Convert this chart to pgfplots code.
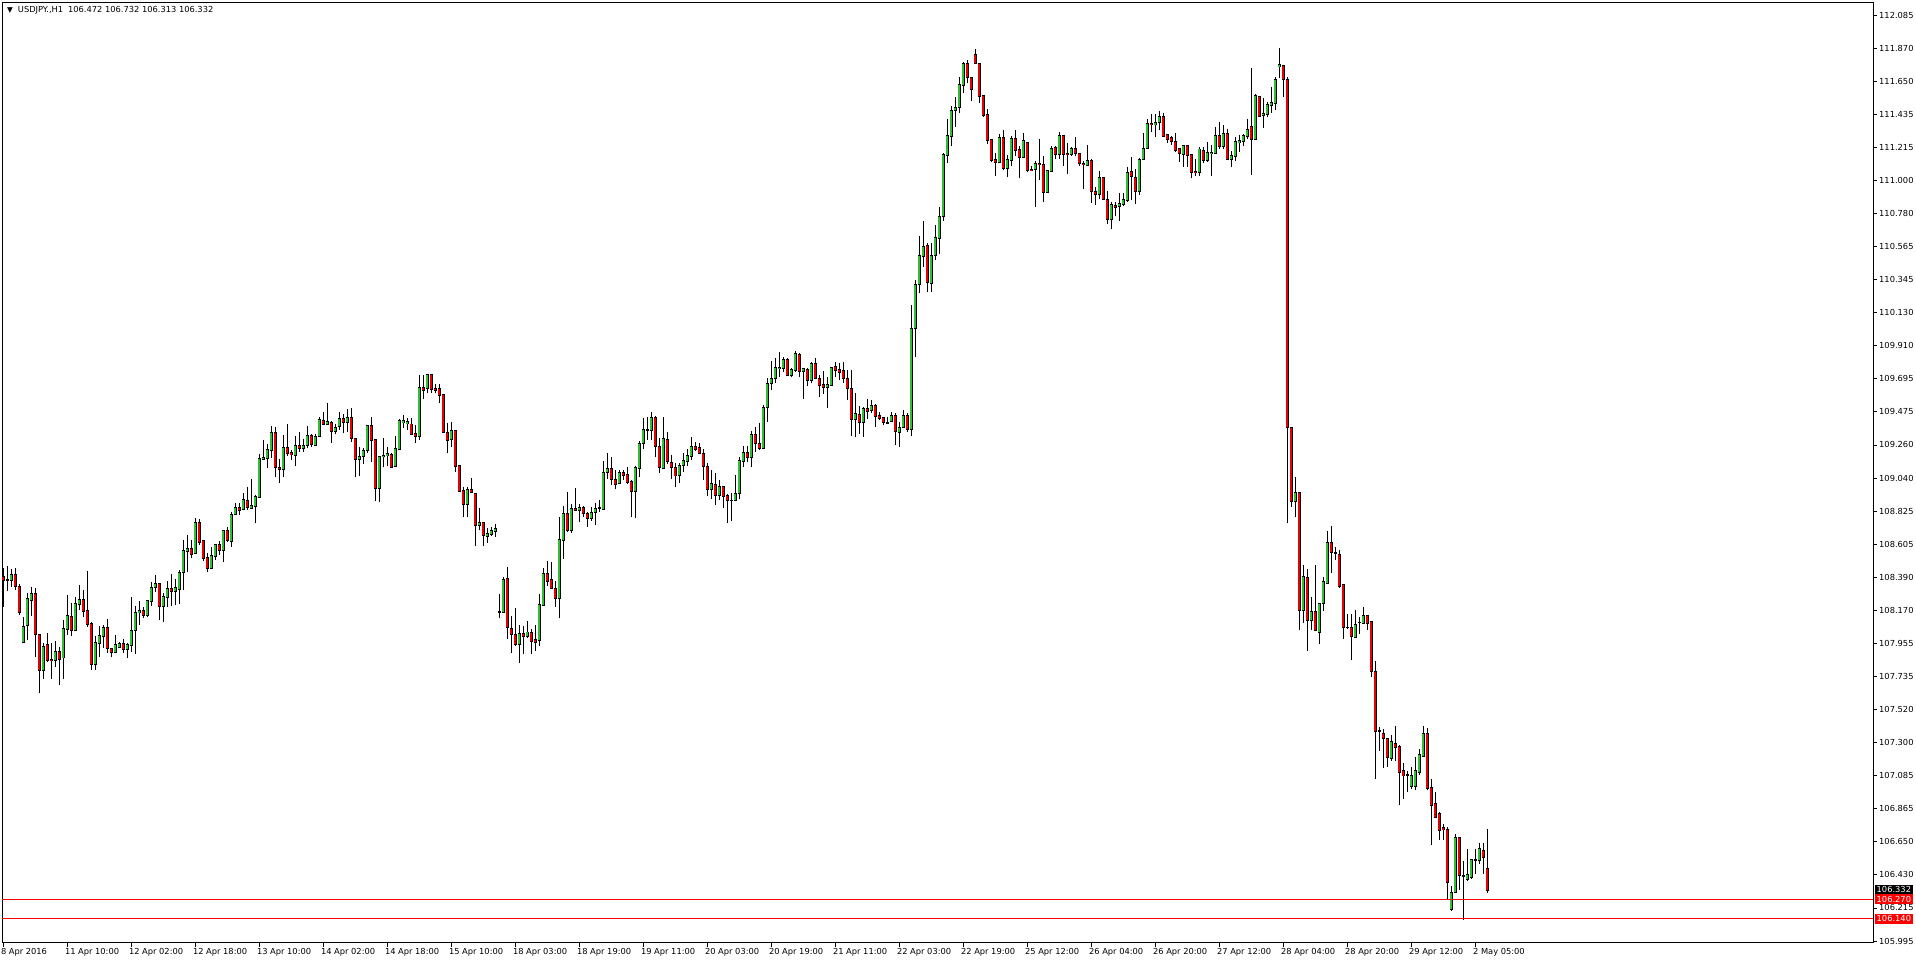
\documentclass[border=0pt]{standalone}
\usepackage{pgfplots}
\pgfplotsset{compat=1.18}
\usepackage{pgfplotstable}
\usepackage{fontspec}
\setmainfont{DejaVu Sans}
\newcommand\mtfont{\fontsize{8.3}{10}\selectfont}
\definecolor{bull}{RGB}{50,190,50}
\definecolor{bear}{RGB}{230,0,0}
\pgfplotstableread{
i o h l c
0 108.391 108.446 108.194 108.369
1 108.369 108.461 108.299 108.368
2 108.365 108.440 108.326 108.407
3 108.407 108.446 108.304 108.326
4 108.330 108.343 108.139 108.161
5 107.964 108.128 107.962 108.063
6 108.069 108.282 107.975 108.249
7 108.238 108.321 108.133 108.282
8 108.282 108.315 107.865 108.012
9 108.012 108.014 107.624 107.773
10 107.778 107.953 107.718 107.935
11 107.942 108.019 107.828 107.843
12 107.848 107.953 107.718 107.839
13 107.843 107.968 107.799 107.900
14 107.900 107.931 107.679 107.850
15 107.859 108.106 107.718 108.052
16 108.047 108.271 108.008 108.133
17 108.128 108.220 108.003 108.041
18 108.041 108.260 108.040 108.212
19 108.209 108.337 108.172 108.238
20 108.238 108.304 108.128 108.161
21 108.166 108.431 108.063 108.080
22 108.084 108.095 107.778 107.815
23 107.815 108.001 107.778 107.959
24 107.953 108.067 107.865 108.001
25 107.997 108.071 107.920 108.056
26 108.056 108.113 107.892 107.920
27 107.920 107.924 107.865 107.892
28 107.892 108.008 107.887 107.942
29 107.924 107.964 107.920 107.953
30 107.953 107.979 107.892 107.913
31 107.913 107.957 107.859 107.942
32 107.938 108.260 107.898 108.036
33 108.036 108.198 107.881 108.157
34 108.157 108.233 108.073 108.166
35 108.166 108.194 108.117 108.135
36 108.135 108.238 108.128 108.231
37 108.229 108.358 108.198 108.321
38 108.321 108.402 108.293 108.347
39 108.347 108.349 108.106 108.194
40 108.194 108.282 108.095 108.260
41 108.255 108.365 108.194 108.310
42 108.310 108.409 108.198 108.293
43 108.299 108.374 108.205 108.317
44 108.308 108.435 108.212 108.420
45 108.420 108.632 108.304 108.560
46 108.556 108.665 108.424 108.578
47 108.573 108.632 108.512 108.540
48 108.545 108.775 108.543 108.749
49 108.749 108.768 108.600 108.621
50 108.630 108.632 108.494 108.516
51 108.518 108.549 108.424 108.444
52 108.444 108.589 108.442 108.527
53 108.523 108.606 108.501 108.604
54 108.604 108.626 108.534 108.567
55 108.567 108.694 108.490 108.692
56 108.692 108.720 108.621 108.628
57 108.628 108.814 108.589 108.803
58 108.803 108.874 108.797 108.847
59 108.847 108.874 108.797 108.830
60 108.834 108.939 108.830 108.895
61 108.895 108.983 108.830 108.847
62 108.841 109.031 108.836 108.858
63 108.852 108.928 108.742 108.917
64 108.913 109.198 108.911 109.169
65 109.165 109.290 109.158 109.174
66 109.169 109.264 109.104 109.224
67 109.220 109.382 109.169 109.340
68 109.340 109.378 109.044 109.108
69 109.110 109.163 109.009 109.097
70 109.097 109.323 109.049 109.242
71 109.242 109.395 109.185 109.202
72 109.207 109.224 109.158 109.193
73 109.187 109.316 109.119 109.255
74 109.255 109.345 109.213 109.235
75 109.233 109.297 109.213 109.255
76 109.255 109.382 109.235 109.321
77 109.321 109.329 109.246 109.261
78 109.259 109.329 109.250 109.316
79 109.314 109.443 109.312 109.421
80 109.421 109.476 109.389 109.393
81 109.393 109.531 109.391 109.408
82 109.408 109.415 109.272 109.351
83 109.351 109.393 109.329 109.373
84 109.378 109.476 109.356 109.432
85 109.428 109.461 109.338 109.406
86 109.404 109.492 109.345 109.439
87 109.439 109.498 109.279 109.299
88 109.301 109.302 109.044 109.163
89 109.163 109.246 109.053 109.178
90 109.180 109.235 109.132 109.220
91 109.220 109.384 109.207 109.382
92 109.382 109.439 109.147 109.288
93 109.290 109.291 108.891 108.976
94 108.976 109.185 108.884 109.180
95 109.180 109.301 109.110 109.189
96 109.187 109.242 109.119 109.198
97 109.198 109.202 109.104 109.115
98 109.119 109.316 109.118 109.235
99 109.231 109.426 109.229 109.415
100 109.406 109.454 109.367 109.415
101 109.399 109.432 109.356 109.410
102 109.395 109.432 109.323 109.329
103 109.329 109.389 109.272 109.318
104 109.318 109.717 109.290 109.636
105 109.636 109.717 109.557 109.619
106 109.630 109.720 109.597 109.717
107 109.717 109.720 109.597 109.623
108 109.630 109.658 109.597 109.619
109 109.630 109.658 109.535 109.584
110 109.586 109.588 109.338 109.340
111 109.340 109.404 109.202 109.288
112 109.294 109.406 109.242 109.351
113 109.353 109.355 109.082 109.115
114 109.119 109.121 108.950 108.952
115 108.955 108.983 108.786 108.869
116 108.867 108.983 108.786 108.961
117 108.961 109.038 108.944 108.944
118 108.935 108.939 108.595 108.727
119 108.727 108.841 108.698 108.749
120 108.749 108.751 108.593 108.661
121 108.656 108.709 108.615 108.674
122 108.670 108.720 108.659 108.694
123 108.687 108.738 108.654 108.705
124 108.161 108.278 108.118 108.163
125 108.161 108.387 108.159 108.376
126 108.376 108.453 107.980 108.058
127 108.052 108.133 107.892 108.012
128 108.012 108.188 107.936 107.947
129 107.947 108.074 107.826 108.019
130 108.019 108.067 107.881 107.997
131 108.002 108.100 107.986 108.026
132 108.026 108.045 107.881 107.964
133 107.975 108.074 107.905 107.964
134 107.971 108.278 107.936 108.205
135 108.201 108.446 108.199 108.414
136 108.414 108.495 108.330 108.359
137 108.370 108.490 108.308 108.315
138 108.315 108.363 108.194 108.249
139 108.249 108.786 108.118 108.637
140 108.633 108.856 108.506 108.804
141 108.804 108.946 108.688 108.699
142 108.699 108.870 108.681 108.841
143 108.841 108.973 108.826 108.830
144 108.830 108.870 108.753 108.848
145 108.848 108.856 108.786 108.808
146 108.808 108.819 108.720 108.775
147 108.775 108.848 108.760 108.815
148 108.813 108.874 108.731 108.841
149 108.841 108.896 108.819 108.843
150 108.837 109.152 108.835 109.078
151 109.078 109.203 109.032 109.104
152 109.104 109.176 108.992 109.032
153 109.032 109.093 108.968 108.999
154 109.005 109.093 109.001 109.078
155 109.078 109.093 109.027 109.060
156 109.060 109.111 109.001 109.012
157 109.016 109.027 108.786 108.951
158 108.951 109.119 108.780 109.111
159 109.108 109.284 109.049 109.268
160 109.268 109.433 109.229 109.356
161 109.356 109.439 109.290 109.358
162 109.356 109.472 109.290 109.439
163 109.439 109.448 109.181 109.247
164 109.247 109.306 109.071 109.108
165 109.104 109.439 109.102 109.295
166 109.290 109.341 109.133 109.148
167 109.143 109.192 109.032 109.108
168 109.111 109.137 108.979 109.056
169 109.056 109.137 109.010 109.124
170 109.122 109.203 109.082 109.152
171 109.148 109.229 109.119 109.185
172 109.185 109.308 109.159 109.247
173 109.251 109.279 109.220 109.233
174 109.236 109.268 109.198 109.203
175 109.203 109.229 109.027 109.115
176 109.115 109.137 108.924 108.966
177 108.966 109.093 108.902 109.001
178 108.999 109.071 108.863 108.924
179 108.924 109.027 108.896 108.981
180 108.981 108.983 108.845 108.922
181 108.922 108.935 108.747 108.892
182 108.894 108.940 108.760 108.894
183 108.892 109.060 108.890 108.940
184 108.940 109.176 108.900 109.152
185 109.148 109.251 109.115 109.209
186 109.209 109.251 109.148 109.176
187 109.176 109.350 109.115 109.328
188 109.324 109.378 109.214 109.269
189 109.269 109.400 109.221 109.236
190 109.236 109.521 109.229 109.506
191 109.506 109.696 109.411 109.663
192 109.663 109.810 109.620 109.696
193 109.696 109.828 109.668 109.769
194 109.760 109.867 109.703 109.769
195 109.762 109.834 109.734 109.817
196 109.817 109.828 109.712 109.718
197 109.718 109.762 109.707 109.751
198 109.747 109.878 109.740 109.856
199 109.850 109.865 109.703 109.740
200 109.742 109.762 109.558 109.756
201 109.756 109.762 109.646 109.681
202 109.681 109.806 109.663 109.791
203 109.795 109.828 109.690 109.696
204 109.696 109.718 109.571 109.652
205 109.652 109.745 109.593 109.637
206 109.637 109.707 109.499 109.652
207 109.648 109.773 109.646 109.769
208 109.769 109.806 109.707 109.751
209 109.751 109.795 109.685 109.734
210 109.745 109.806 109.668 109.696
211 109.696 109.751 109.554 109.631
212 109.631 109.751 109.317 109.427
213 109.427 109.602 109.313 109.462
214 109.455 109.514 109.330 109.407
215 109.407 109.506 109.313 109.495
216 109.495 109.558 109.427 109.477
217 109.484 109.554 109.466 109.514
218 109.514 109.527 109.378 109.444
219 109.449 109.477 109.422 109.435
220 109.440 109.444 109.389 109.405
221 109.405 109.444 109.400 109.404
222 109.411 109.477 109.407 109.449
223 109.449 109.466 109.258 109.345
224 109.345 109.411 109.247 109.374
225 109.374 109.488 109.367 109.451
226 109.451 109.466 109.345 109.361
227 109.361 110.179 109.317 110.025
228 110.025 110.343 109.834 110.314
229 110.314 110.632 110.255 110.503
230 110.496 110.731 110.431 110.562
231 110.569 110.584 110.266 110.328
232 110.321 110.584 110.266 110.503
233 110.503 110.702 110.474 110.624
234 110.617 110.821 110.512 110.759
235 110.759 111.176 110.733 111.165
236 111.161 111.402 111.110 111.292
237 111.290 111.487 111.226 111.457
238 111.461 111.544 111.347 111.478
239 111.478 111.680 111.439 111.625
240 111.625 111.774 111.571 111.763
241 111.763 111.790 111.636 111.676
242 111.676 111.678 111.520 111.597
243 111.827 111.860 111.761 111.768
244 111.768 111.772 111.509 111.549
245 111.553 111.560 111.417 111.428
246 111.432 111.467 111.235 111.259
247 111.264 111.266 111.117 111.128
248 111.132 111.180 111.023 111.117
249 111.117 111.303 111.110 111.281
250 111.281 111.329 111.066 111.077
251 111.077 111.165 111.018 111.136
252 111.132 111.286 111.093 111.275
253 111.275 111.329 111.158 111.198
254 111.198 111.224 111.012 111.150
255 111.150 111.307 111.143 111.257
256 111.248 111.253 111.055 111.062
257 111.071 111.093 111.058 111.062
258 111.071 111.128 110.825 111.110
259 111.110 111.270 111.001 111.101
260 111.099 111.158 110.858 110.919
261 110.919 111.066 110.913 111.062
262 111.055 111.224 111.053 111.209
263 111.215 111.224 111.136 111.169
264 111.169 111.316 111.141 111.294
265 111.290 111.292 111.095 111.169
266 111.176 111.242 111.038 111.167
267 111.169 111.220 111.158 111.209
268 111.209 111.281 111.158 111.176
269 111.176 111.180 111.095 111.110
270 111.110 111.128 110.939 111.101
271 111.099 111.231 111.093 111.126
272 111.126 111.136 110.847 110.924
273 110.924 110.957 110.836 110.909
274 110.906 111.062 110.873 111.012
275 111.014 111.018 110.872 110.873
276 110.873 110.928 110.711 110.742
277 110.742 110.852 110.676 110.836
278 110.832 110.852 110.764 110.823
279 110.825 110.913 110.733 110.843
280 110.841 110.913 110.830 110.873
281 110.869 111.084 110.858 111.051
282 111.058 111.154 110.869 111.023
283 111.012 111.073 110.841 110.924
284 110.924 111.143 110.902 111.136
285 111.136 111.312 111.132 111.209
286 111.209 111.400 111.207 111.373
287 111.373 111.435 111.318 111.364
288 111.364 111.435 111.281 111.380
289 111.378 111.454 111.329 111.421
290 111.421 111.443 111.288 111.290
291 111.297 111.299 111.242 111.268
292 111.275 111.286 111.231 111.253
293 111.253 111.312 111.187 111.198
294 111.204 111.209 111.121 111.176
295 111.172 111.226 111.088 111.224
296 111.224 111.226 111.088 111.161
297 111.165 111.172 111.012 111.049
298 111.055 111.136 111.023 111.049
299 111.049 111.215 111.023 111.204
300 111.193 111.220 111.110 111.132
301 111.132 111.248 111.121 111.182
302 111.176 111.231 111.029 111.182
303 111.176 111.347 111.172 111.294
304 111.294 111.382 111.202 111.220
305 111.220 111.362 111.202 111.307
306 111.307 111.334 111.134 111.136
307 111.136 111.193 111.084 111.158
308 111.158 111.281 111.128 111.253
309 111.250 111.297 111.187 111.259
310 111.253 111.303 111.224 111.290
311 111.286 111.400 111.268 111.334
312 111.351 111.735 111.033 111.268
313 111.268 111.566 111.264 111.553
314 111.549 111.551 111.417 111.421
315 111.426 111.538 111.345 111.439
316 111.435 111.516 111.411 111.494
317 111.494 111.610 111.439 111.509
318 111.505 111.680 111.457 111.658
319 111.748 111.866 111.669 111.757
320 111.750 111.752 111.549 111.663
321 111.659 111.678 108.743 109.372
322 109.372 109.375 108.851 108.886
323 108.886 109.044 108.782 108.944
324 108.944 108.946 108.040 108.171
325 108.171 108.465 108.086 108.388
326 108.388 108.442 107.905 108.106
327 108.106 108.260 108.040 108.164
328 108.164 108.465 108.034 108.036
329 108.028 108.216 107.951 108.214
330 108.214 108.388 108.164 108.357
331 108.349 108.693 108.347 108.616
332 108.616 108.724 108.415 108.550
333 108.550 108.588 108.504 108.548
334 108.538 108.569 108.318 108.330
335 108.337 108.339 107.982 108.059
336 108.059 108.144 108.048 108.057
337 108.059 108.144 107.843 108.001
338 107.990 108.171 107.988 108.079
339 108.090 108.125 108.017 108.092
340 108.086 108.194 108.084 108.137
341 108.137 108.139 108.040 108.086
342 108.098 108.100 107.731 107.770
343 107.770 107.835 107.063 107.372
344 107.380 107.403 107.245 107.378
345 107.360 107.391 107.132 107.326
346 107.326 107.333 107.140 107.206
347 107.198 107.353 107.179 107.306
348 107.295 107.411 107.179 107.268
349 107.275 107.283 106.889 107.102
350 107.113 107.167 106.928 107.082
351 107.090 107.113 106.974 107.088
352 107.013 107.140 106.997 107.082
353 107.013 107.206 106.986 107.113
354 107.102 107.256 107.090 107.217
355 107.210 107.411 107.206 107.360
356 107.360 107.399 106.986 106.997
357 107.005 107.063 106.627 106.889
358 106.897 106.974 106.804 106.812
359 106.831 106.843 106.658 106.727
360 106.742 106.766 106.658 106.727
361 106.727 106.742 106.271 106.379
362 106.206 106.356 106.194 106.318
363 106.318 106.696 106.310 106.677
364 106.677 106.679 106.329 106.426
365 106.426 106.522 106.136 106.424
366 106.403 106.600 106.387 106.434
367 106.414 106.532 106.406 106.530
368 106.530 106.600 106.437 106.532
369 106.530 106.638 106.503 106.600
370 106.592 106.638 106.437 106.549
371 106.472 106.732 106.313 106.332
}\candles
\begin{document}
\begin{tikzpicture}
\begin{axis}[
  name=ax,
  scale only axis,
  width=1871pt, height=940pt,
  xmin=-0.325, xmax=467.4,
  ymin=105.982, ymax=112.164,
  clip=false,
  axis line style={black, line width=1pt},
  tick align=outside,
  xtick pos=left, ytick pos=right,
  xticklabel pos=left, yticklabel pos=right,
  major tick length=4pt,
  tick style={black, line width=0.8pt},
  xtick={0,16,...,368},
  xticklabels={8 Apr 2016,11 Apr 10:00,12 Apr 02:00,12 Apr 18:00,13 Apr 10:00,14 Apr 02:00,14 Apr 18:00,15 Apr 10:00,18 Apr 03:00,18 Apr 19:00,19 Apr 11:00,20 Apr 03:00,20 Apr 19:00,21 Apr 11:00,22 Apr 03:00,22 Apr 19:00,25 Apr 12:00,26 Apr 04:00,26 Apr 20:00,27 Apr 12:00,28 Apr 04:00,28 Apr 20:00,29 Apr 12:00,2 May 05:00},
  xticklabel style={anchor=north west, inner sep=0pt, xshift=-2.5pt, yshift=-1.5pt, font=\mtfont},
  ytick={105.995,106.2125,106.43,106.6475,106.865,107.0825,107.3,107.5175,107.735,107.9525,108.17,108.3875,108.605,108.8225,109.04,109.2575,109.475,109.6925,109.91,110.1275,110.345,110.5625,110.78,110.9975,111.215,111.4325,111.65,111.8675,112.085},
  yticklabels={105.995,106.215,106.430,106.650,106.865,107.085,107.300,107.520,107.735,107.955,108.170,108.390,108.605,108.825,109.040,109.260,109.475,109.695,109.910,110.130,110.345,110.565,110.780,111.000,111.215,111.435,111.650,111.870,112.085},
  yticklabel style={anchor=west, inner sep=0pt, xshift=2pt, font=\mtfont},
]
% wicks
\addplot[draw=none, mark=none, error bars/.cd, y dir=plus, y explicit, error mark=none,
  error bar style={draw=black, solid, line width=1pt}]
  table[x=i, y=l, y error expr={\thisrow{h}-\thisrow{l}}] {\candles};
% body outlines
\addplot[draw=none, mark=none, error bars/.cd, y dir=both, y explicit, error mark=none,
  error bar style={draw=black, solid, line width=3.4pt}]
  table[x=i, y expr={(\thisrow{o}+\thisrow{c})/2}, y error expr={abs(\thisrow{o}-\thisrow{c})/2+0.0045}] {\candles};
% bullish fill
\addplot[draw=none, mark=none, error bars/.cd, y dir=both, y explicit, error mark=none,
  error bar style={draw=bull, solid, line width=1.8pt}]
  table[x=i, y expr={(\thisrow{o}+\thisrow{c})/2}, y error expr={(\thisrow{c}>\thisrow{o}) ? max((\thisrow{c}-\thisrow{o})/2-0.002,0) : 0}] {\candles};
% bearish fill
\addplot[draw=none, mark=none, error bars/.cd, y dir=both, y explicit, error mark=none,
  error bar style={draw=bear, solid, line width=1.8pt}]
  table[x=i, y expr={(\thisrow{o}+\thisrow{c})/2}, y error expr={(\thisrow{o}>\thisrow{c}) ? max((\thisrow{o}-\thisrow{c})/2-0.002,0) : 0}] {\candles};
% horizontal levels
\addplot[red, line width=1pt] coordinates {(-0.325,106.270) (467.4,106.270)};
\addplot[red, line width=1pt] coordinates {(-0.325,106.140) (467.4,106.140)};
% price labels
\node[fill=black, text=white, anchor=west, inner xsep=2pt, inner ysep=0pt, minimum height=9.5pt, font=\mtfont] at ([xshift=1.5pt]axis cs:467.4,106.332) {106.332};
\node[fill=red, text=white, anchor=west, inner xsep=2pt, inner ysep=0pt, minimum height=9.5pt, font=\mtfont] at ([xshift=1.5pt]axis cs:467.4,106.270) {106.270};
\node[fill=red, text=white, anchor=west, inner xsep=2pt, inner ysep=0pt, minimum height=9.5pt, font=\mtfont] at ([xshift=1.5pt]axis cs:467.4,106.140) {106.140};
% header
\node[anchor=west, inner sep=0pt, font=\mtfont] at ([xshift=5pt,yshift=-7pt]rel axis cs:0,1) {{\fontsize{7.5}{7.5}\selectfont ▼}\hspace{5pt}USDJPY.,H1\hspace{5pt}106.472 106.732 106.313 106.332};
\end{axis}
\pgfresetboundingbox
\path[use as bounding box] ([xshift=-2pt,yshift=-21pt]ax.south west) rectangle ([xshift=43pt,yshift=3pt]ax.north east);
\end{tikzpicture}
\end{document}
